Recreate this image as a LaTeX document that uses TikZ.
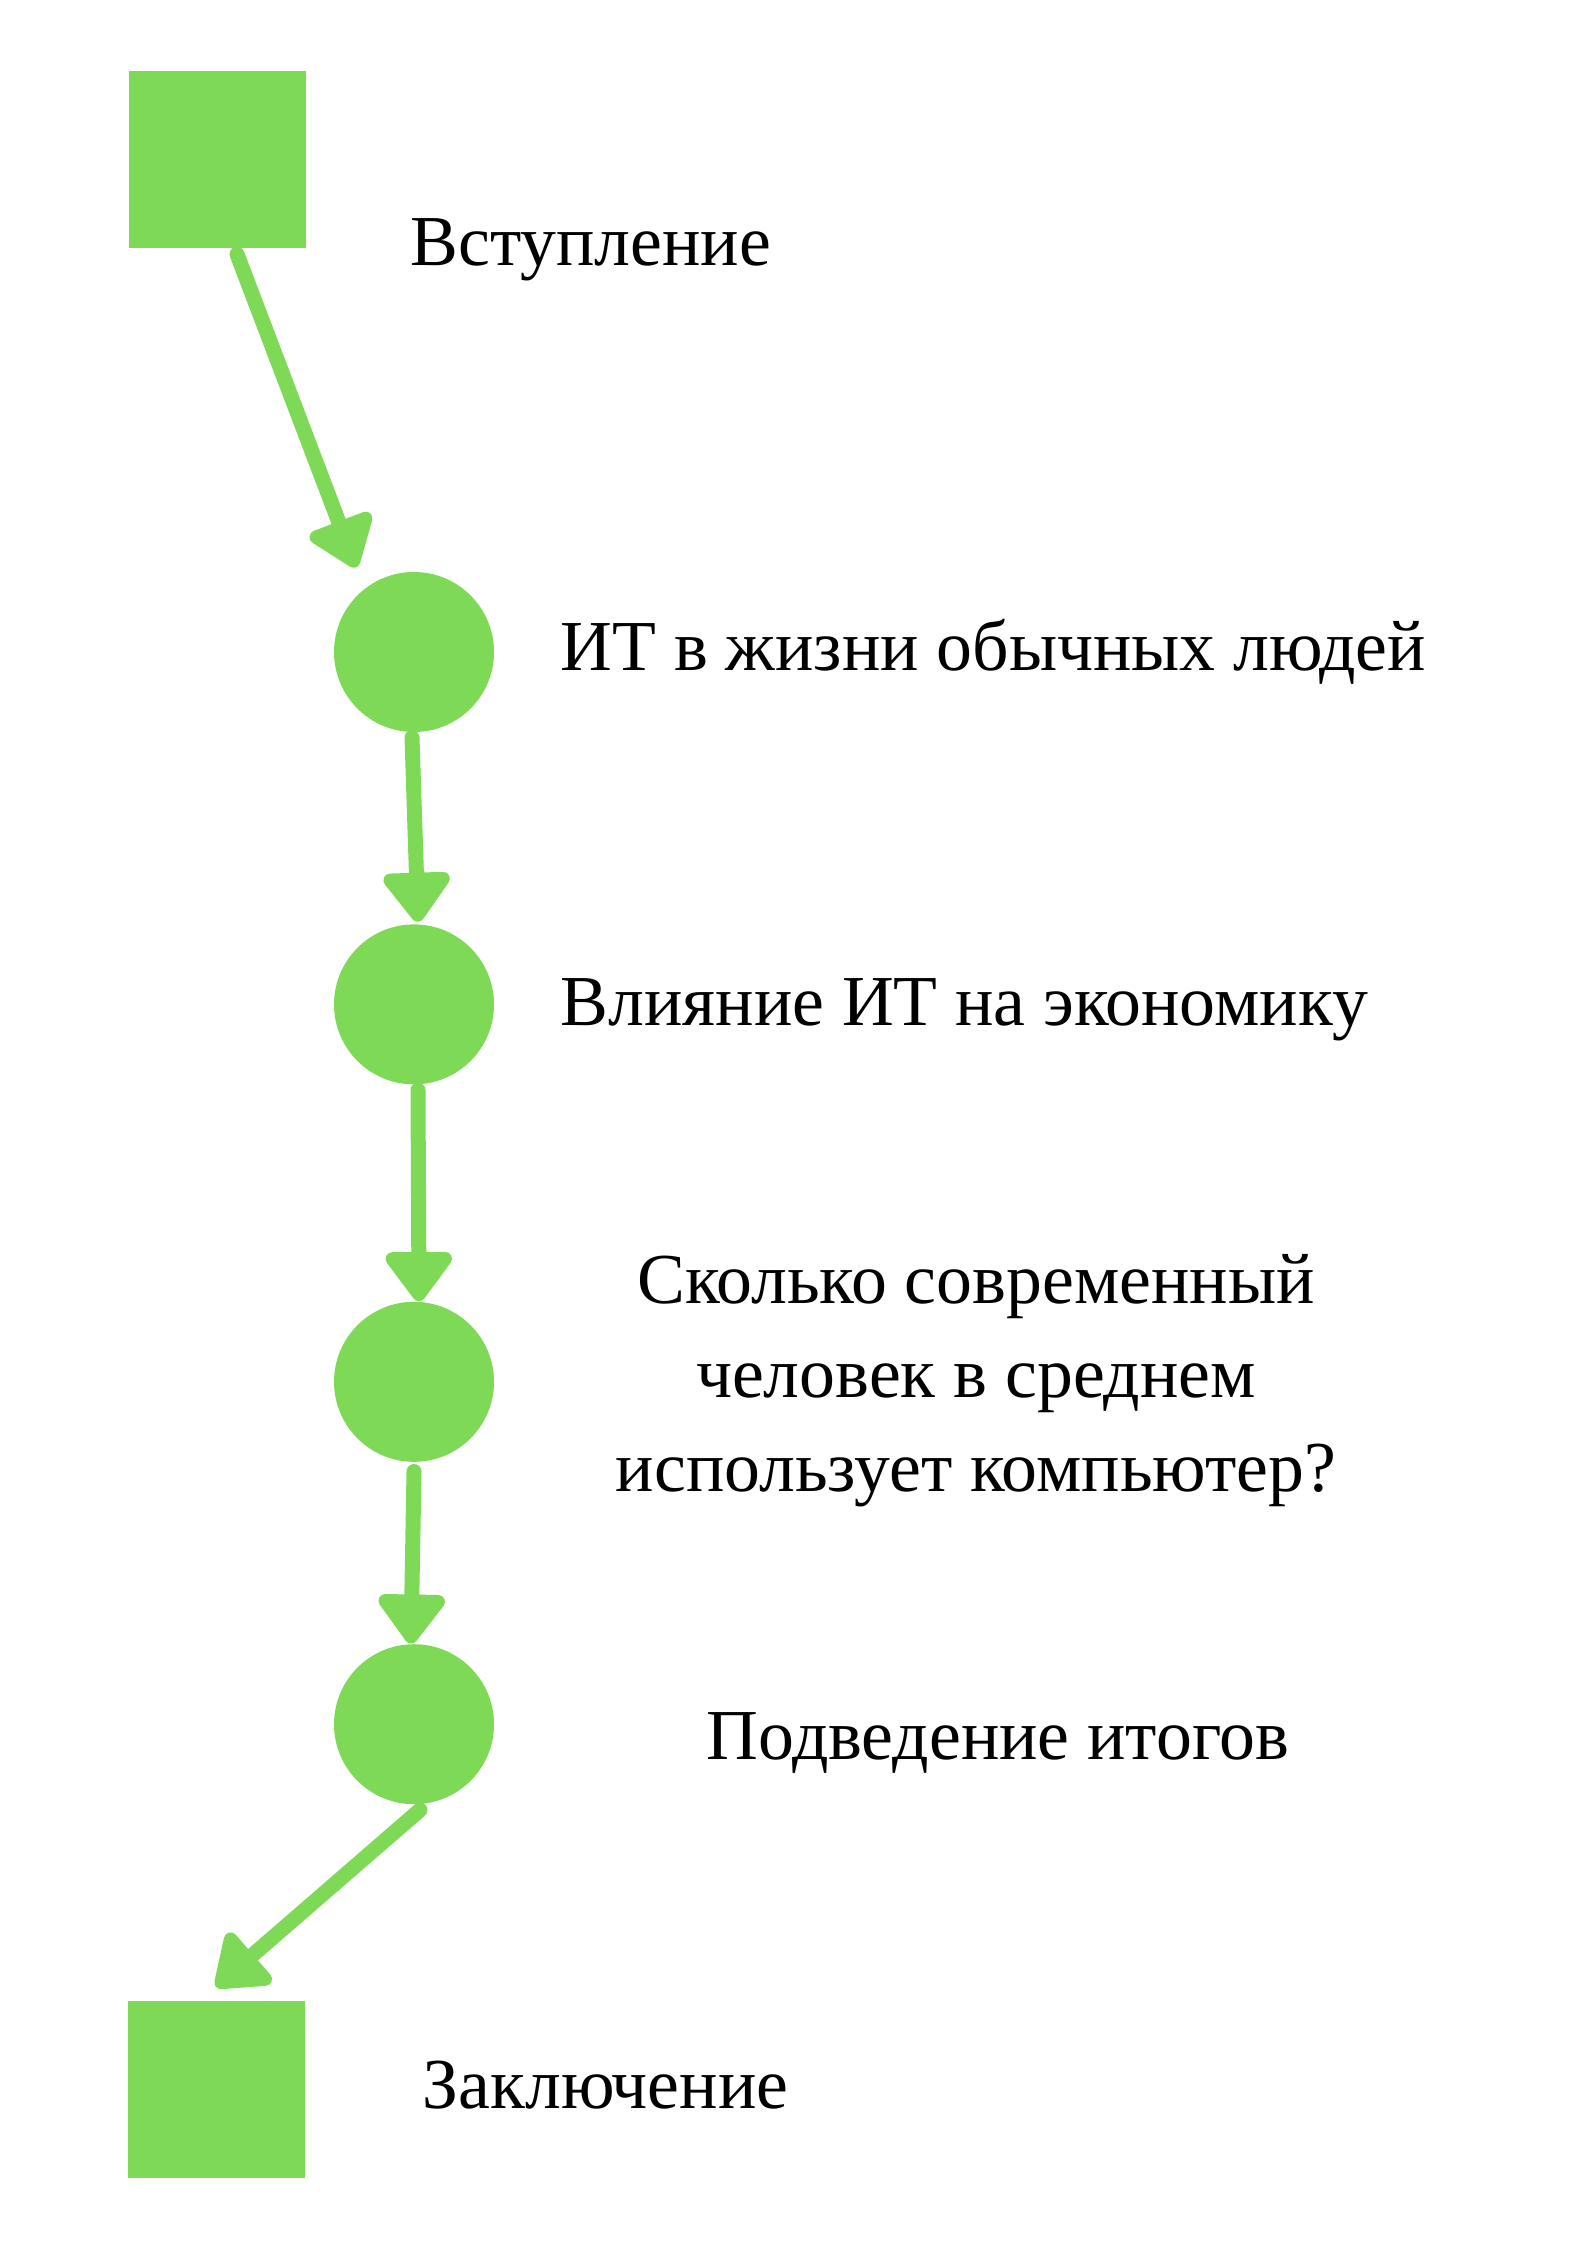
\documentclass[tikz,border=0pt]{standalone}
\usepackage{fontspec}
\setmainfont{Liberation Serif}
\usetikzlibrary{positioning, arrows.meta}
\definecolor{leaf}{HTML}{7ED957}
\tikzset{
  endbox/.style={
    rectangle,
    fill=leaf,
    minimum size=17.7mm,
    inner sep=0pt
  },
  stage/.style={
    circle,
    fill=leaf,
    minimum size=16mm,
    inner sep=0pt
  },
  caption/.style={
    font=\fontsize{20.4pt}{26.7pt}\selectfont,
    inner sep=0pt,
    anchor=base west
  },
  flow/.style={
    draw=leaf,
    line width=1.5mm,
    line cap=round,
    -{Triangle[width=7.6mm, length=5.4mm, round]}
  }
}
\begin{document}
\begin{tikzpicture}[x=0.1mm, y=-0.1mm]
  \useasboundingbox (0,0) rectangle (1587,2245);

  \node[endbox] (intro) at (217,160) {};
  \node[stage] (life) at (414,652) {};
  \node[stage, below=19.1mm of life] (econ) {};
  \node[stage, below=21.6mm of econ] (usage) {};
  \node[stage, below=18.1mm of usage] (summary) {};
  \node[endbox] (outro) at (216,2089) {};

  % Подписи
  \node[caption] (introtext) at (410,266) {Вступление};
  \node[caption] (lifetext) at (560,671) {ИТ в жизни обычных людей};
  \node[caption] (econtext) at (560,1025) {Влияние ИТ на экономику};
  \node[caption, anchor=center, align=center] (usagetext) at (976,1381)
    {Сколько современный\\человек в среднем\\использует компьютер?};
  \node[caption, anchor=base] (summarytext) at (998,1759) {Подведение итогов};
  \node[caption] (outrotext) at (422,2108) {Заключение};

  % Стрелки
  \draw[flow] ([xshift=2mm, yshift=-0.5mm]intro.south) -- ([xshift=-5.8mm, yshift=0.4mm]life.north);
  \draw[flow] ([xshift=-0.2mm, yshift=-0.5mm]life.south) -- ([xshift=0.4mm, yshift=0.2mm]econ.north);
  \draw[flow] ([xshift=0.4mm, yshift=-0.5mm]econ.south) -- ([xshift=0.5mm]usage.north);
  \draw[flow] ([yshift=-0.9mm]usage.south) -- ([xshift=-0.3mm]summary.north);
  \draw[flow] ([xshift=0.6mm, yshift=-0.5mm]summary.south) -- ([yshift=1.3mm]outro.north);
\end{tikzpicture}
\end{document}
